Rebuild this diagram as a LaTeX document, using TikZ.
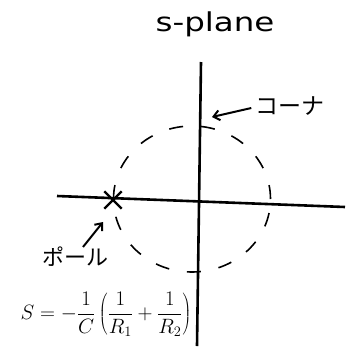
\documentclass[tikz,border=0pt]{standalone}
\usepackage{fontspec}
\newfontfamily\jpfont{Noto Sans CJK JP}
\newfontfamily\handfont{DejaVu Sans}
\usetikzlibrary{shapes.geometric,shapes.misc,arrows.meta}
\tikzset{
  axis/.style={line width=2.6pt},
  lbl/.style={inner sep=0pt},
  ptr/.style={line width=2pt,-{Straight Barb[length=6pt,width=10pt]}},
  polemark/.style={draw,cross out,line width=2.4pt,minimum size=15pt,inner sep=0pt},
  orbit/.style={draw,ellipse,dash pattern=on 14pt off 18pt,line width=1.6pt,minimum width=157pt,minimum height=146pt,inner sep=0pt}
}
\begin{document}
\begin{tikzpicture}[x=1pt,y=-1pt]
\useasboundingbox (0,0) rectangle (348,346);
\coordinate (xl) at (57,196);
\coordinate (xr) at (345,207);
\coordinate (yt) at (201,62);
\coordinate (yb) at (197,346);
\draw[axis] (xl) -- (xr);
\draw[axis] (yt) -- (yb);
\node[orbit] (circ) at (192,199) {};
\node[polemark] (pole) at (113,200) {};
\node[lbl,xscale=1.25] (splane) at (215,24) {\handfont\fontsize{26}{30}\selectfont s-plane};
\node[lbl] (corner) at (290,106) {\jpfont\fontsize{23}{26}\selectfont コーナ};
\coordinate (ctip) at (212,117);
\draw[ptr] (corner.west) ++(-4,2) coordinate (cstart) (cstart) -- (ctip);
\node[lbl] (polelbl) at (75,257) {\jpfont\fontsize{22}{26}\selectfont ポール};
\coordinate (ptip) at (103,222);
\draw[ptr] (polelbl.north) ++(8,0) coordinate (pstart) (pstart) -- (ptip);
\node[lbl] (formula) at (106,314) {\fontsize{21}{26}\selectfont $\displaystyle S=-\frac{1}{C}\left(\frac{1}{R_1}+\frac{1}{R_2}\right)$};
\end{tikzpicture}
\end{document}
